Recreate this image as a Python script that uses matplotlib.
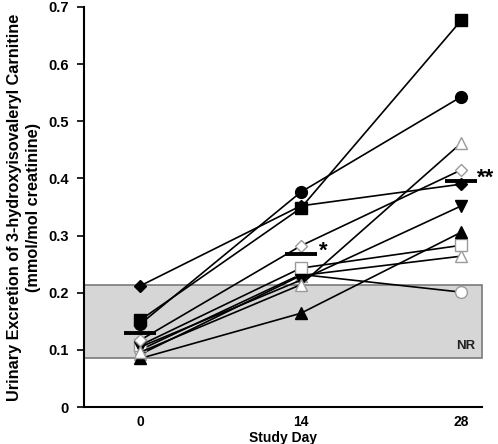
import matplotlib
matplotlib.use("Agg")
import matplotlib.pyplot as plt
from matplotlib.patches import Rectangle

plt.rcParams['font.family'] = ['Liberation Sans', 'DejaVu Sans']
plt.rcParams['font.weight'] = 'bold'

days = [0, 14, 28]
day_labels = ['0', '14', '28']

sq_filled = [0.152, 0.348, 0.677]
circ_filled = [0.145, 0.376, 0.543]
diam_filled = [0.212, 0.352, 0.390]
diam_open = [0.117, 0.282, 0.415]
tri_open_a = [0.096, 0.214, 0.462]
tridown_filled = [0.105, 0.222, 0.352]
tri_filled = [0.085, 0.164, 0.306]
sq_open = [0.108, 0.243, 0.283]
tri_open_b = [0.092, 0.230, 0.264]
circ_open = [0.100, 0.232, 0.201]
means = [0.130, 0.268, 0.395]

nr_low, nr_high = 0.085, 0.214
yticks = [0, 0.1, 0.2, 0.3, 0.4, 0.5, 0.6, 0.7]
ytick_labels = ['0', '0.1', '0.2', '0.3', '0.4', '0.5', '0.6', '0.7']

series = [
    (circ_open, 'o', False),
    (tri_open_b, '^', False),
    (sq_open, 's', False),
    (tri_filled, '^', True),
    (tridown_filled, 'v', True),
    (tri_open_a, '^', False),
    (diam_open, 'D', False),
    (diam_filled, 'D', True),
    (circ_filled, 'o', True),
    (sq_filled, 's', True),
]

fig = plt.figure(figsize=(4.98, 4.44), dpi=100)
ax = fig.add_axes([84/498, 1-407/444, (482-84)/498, 400/444])
ax.set_xlim(-4.9, 29.8)
ax.set_ylim(0, 0.7)

band = Rectangle((-4.9, nr_low), 34.7, nr_high - nr_low, facecolor='#d6d6d6',
                 edgecolor='#7a7a7a', linewidth=1.2, zorder=0, clip_on=False)
ax.add_patch(band)
ax.text(29.2, nr_low + 0.012, 'NR', ha='right', va='bottom', fontsize=9.5,
        fontweight='bold', color='#222222')

for vals, mk, filled in series:
    ms = 6.5 if mk == 'D' else 8.5
    if filled:
        ax.plot(days, vals, color='black', lw=1.2, marker=mk, ms=ms,
                mfc='black', mec='black', zorder=3)
    else:
        ax.plot(days, vals, color='black', lw=1.2, marker=mk, ms=ms,
                mfc='white', mec='#9a9a9a', mew=1.0, zorder=3)

for d, m in zip(days, means):
    ax.plot([d - 1.4, d + 1.4], [m, m], color='black', lw=2.8, zorder=4,
            solid_capstyle='butt')

ax.text(15.6, means[1] + 0.004, '*', fontsize=16, fontweight='bold', va='center', ha='left')
ax.text(29.4, means[2] + 0.006, '**', fontsize=16, fontweight='bold', va='center', ha='left')

ax.set_xticks(days)
ax.set_xticklabels(day_labels, fontsize=10, fontweight='bold')
ax.set_yticks(yticks)
ax.set_yticklabels(ytick_labels, fontsize=10.5, fontweight='bold')
ax.tick_params(axis='x', length=0, pad=6)
ax.tick_params(axis='y', length=5, width=1.2, direction='out', pad=6)
ax.spines['top'].set_visible(False)
ax.spines['right'].set_visible(False)
ax.spines['left'].set_linewidth(1.5)
ax.spines['bottom'].set_linewidth(1.5)
ax.set_xlabel('Study Day', fontsize=10, fontweight='bold', labelpad=1)
ax.set_ylabel('Urinary Excretion of 3-hydroxyisovaleryl Carnitine\n(mmol/mol creatinine)',
              fontsize=11.7, fontweight='bold', linespacing=1.3)
ax.yaxis.set_label_coords(-0.108, 0.5)

fig.savefig('out.png', dpi=100)
